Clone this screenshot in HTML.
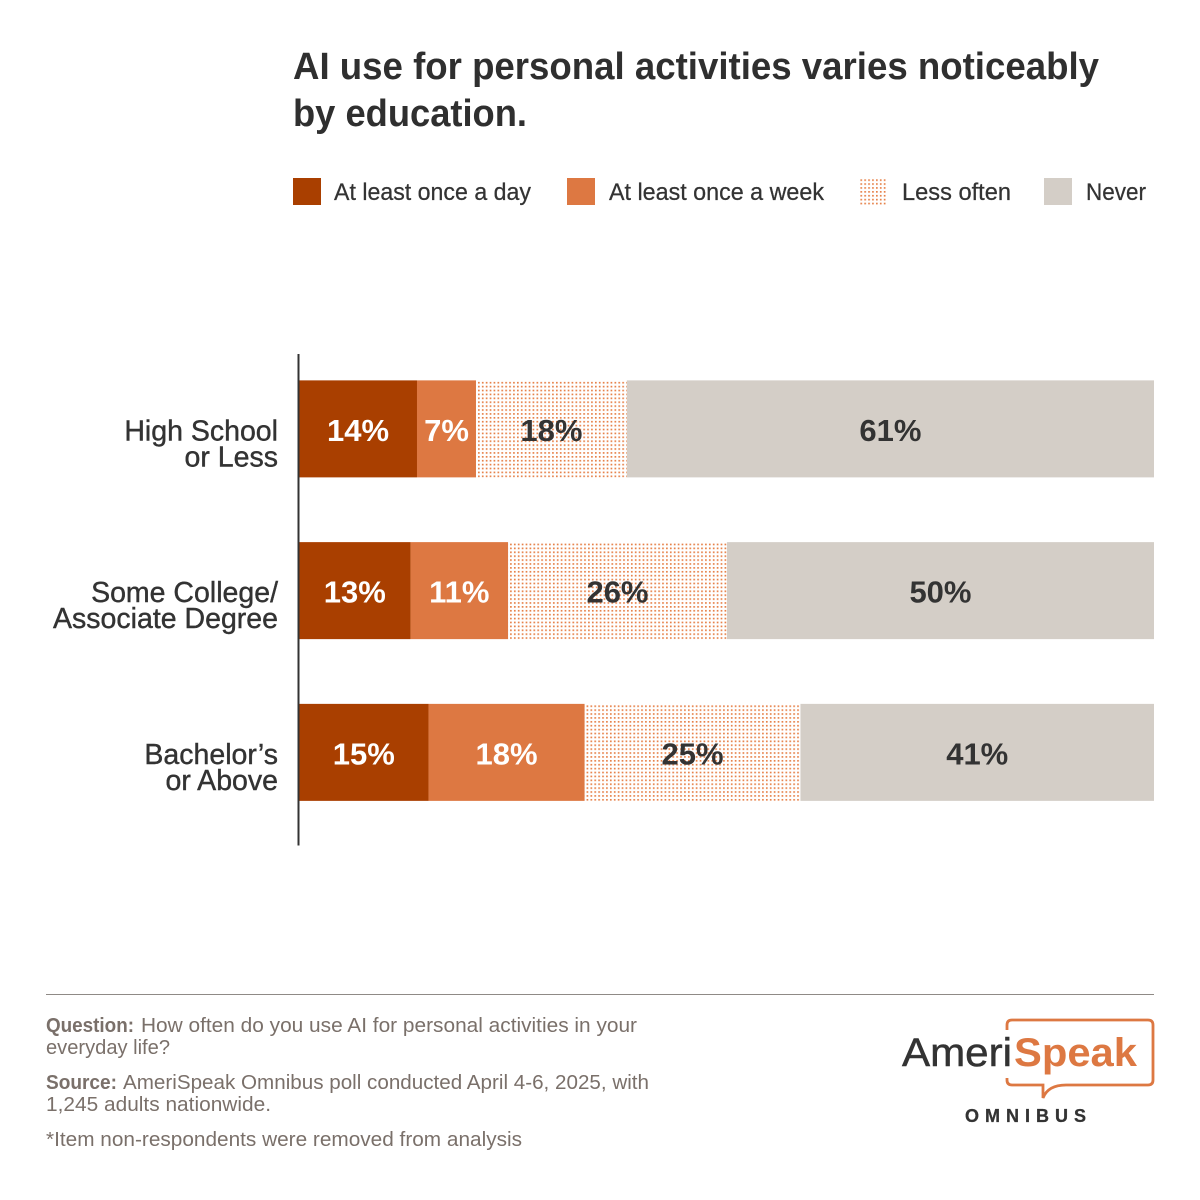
<!DOCTYPE html>
<html lang="en">
<head>
<meta charset="utf-8">
<title>AI use for personal activities varies noticeably by education.</title>
<style>
html,body{margin:0;padding:0;background:#fff;width:1200px;height:1200px;overflow:hidden}
svg{display:block}
text{font-family:"Liberation Sans",sans-serif}
</style>
</head>
<body>
<svg id="chart" xmlns="http://www.w3.org/2000/svg" width="1200" height="1200" viewBox="0 0 1200 1200">
  <defs id="defs">
    <pattern id="legend-dots" patternUnits="userSpaceOnUse" x="2.4" y="3.8" width="3.9" height="3.9">
      <rect x="0" y="0" width="1.7" height="1.7" fill="#e6824a"></rect>
    </pattern>
  </defs>
  <rect width="1200" height="1200" fill="#fff"></rect>

  <g fill="#2f2f2f" font-weight="700" font-size="38">
    <text x="293" y="79" textLength="806" lengthAdjust="spacingAndGlyphs">AI use for personal activities varies noticeably</text>
    <text x="293" y="126" textLength="234" lengthAdjust="spacingAndGlyphs">by education.</text>
  </g>

  <g font-size="24" fill="#333" stroke="#333" stroke-width="0.25">
    <g>
      <rect x="293" y="178" width="28" height="27" fill="#a93f00" stroke="none"></rect>
      <text x="334" y="200" textLength="197" lengthAdjust="spacingAndGlyphs">At least once a day</text>
    </g>
    <g>
      <rect x="567" y="178" width="28" height="27" fill="#dd7842" stroke="none"></rect>
      <text x="609" y="200" textLength="215" lengthAdjust="spacingAndGlyphs">At least once a week</text>
    </g>
    <g>
      <rect x="859" y="178" width="28" height="27" fill="url(#legend-dots)" stroke="none"></rect>
      <text x="902" y="200" textLength="109" lengthAdjust="spacingAndGlyphs">Less often</text>
    </g>
    <g>
      <rect x="1044" y="178" width="28" height="27" fill="#d4cec7" stroke="none"></rect>
      <text x="1086" y="200" textLength="60" lengthAdjust="spacingAndGlyphs">Never</text>
    </g>
  </g>

  <g id="plot"></g>
  <line x1="298.5" y1="354" x2="298.5" y2="845.5" stroke="#333" stroke-width="2"></line>

  <line x1="46" y1="994.5" x2="1154" y2="994.5" stroke="#8f8a86" stroke-width="1"></line>

  <g font-size="20" fill="#7a706a">
    <text x="46" y="1032" font-weight="700" textLength="88" lengthAdjust="spacingAndGlyphs">Question:</text>
    <text x="141" y="1032" textLength="496" lengthAdjust="spacingAndGlyphs">How often do you use AI for personal activities in your</text>
    <text x="46" y="1054" textLength="124" lengthAdjust="spacingAndGlyphs">everyday life?</text>
    <text x="46" y="1089" font-weight="700" textLength="71" lengthAdjust="spacingAndGlyphs">Source:</text>
    <text x="123" y="1089" textLength="526" lengthAdjust="spacingAndGlyphs">AmeriSpeak Omnibus poll conducted April 4-6, 2025, with</text>
    <text x="46" y="1111" textLength="225" lengthAdjust="spacingAndGlyphs">1,245 adults nationwide.</text>
    <text x="46" y="1146" textLength="476" lengthAdjust="spacingAndGlyphs">*Item non-respondents were removed from analysis</text>
  </g>

  <g>
    <path d="M1007 1030 V1025 Q1007 1020 1012 1020 H1148 Q1153 1020 1153 1025 V1080 Q1153 1085 1148 1085 H1066 Q1048 1085 1043 1098 V1085 H1012 Q1007 1085 1007 1080 V1077" fill="none" stroke="#dd7842" stroke-width="2.8"></path>
    <rect x="1000" y="1030" width="16" height="48" fill="#fff"></rect>
    <text x="902" y="1066" font-size="40" fill="#333" stroke="#333" stroke-width="0.5" textLength="110" lengthAdjust="spacingAndGlyphs">Ameri</text>
    <text x="1014" y="1066" font-size="40" font-weight="700" fill="#dd7842" textLength="123" lengthAdjust="spacingAndGlyphs">Speak</text>
    <text x="965" y="1122" font-size="18" font-weight="700" fill="#333" stroke="#333" stroke-width="0.3" textLength="121" lengthAdjust="spacing">OMNIBUS</text>
  </g>
</svg>
<script>
const categoryLine1 = ["High School", "Some College/", "Bachelor\u2019s"];
const categoryLine2 = ["or Less", "Associate Degree", "or Above"];
const dailyValues = [13.8, 13.05, 15.15];
const weeklyValues = [6.9, 11.4, 18.25];
const lessOftenValues = [17.65, 25.6, 25.25];
const neverValues = [61.65, 49.95, 41.35];
const dailyLabels = ["14%", "13%", "15%"];
const weeklyLabels = ["7%", "11%", "18%"];
const lessOftenLabels = ["18%", "26%", "25%"];
const neverLabels = ["61%", "50%", "41%"];

const NS = "http://www.w3.org/2000/svg";
const plot = document.getElementById("plot");
const defs = document.getElementById("defs");
const xLeft = 299, xWidth = 855;
const bandStart = 348, bandStep = 161.75, barHeight = 97;

function xScale(v) { return xLeft + (v / 100) * xWidth; }
function yCenter(i) { return bandStart + bandStep * (i + 0.5); }

const seriesList = [
  { key: "daily", values: dailyValues, labels: dailyLabels, fill: "#a93f00", text: "#fff" },
  { key: "weekly", values: weeklyValues, labels: weeklyLabels, fill: "#dd7842", text: "#fff" },
  { key: "less-often", values: lessOftenValues, labels: lessOftenLabels, fill: "dots", text: "#333" },
  { key: "never", values: neverValues, labels: neverLabels, fill: "#d4cec7", text: "#333" }
];

function makeText(content, x, y, size, weight, fill, anchor) {
  const t = document.createElementNS(NS, "text");
  t.textContent = content;
  t.setAttribute("x", x);
  t.setAttribute("y", y);
  t.setAttribute("font-size", size);
  t.setAttribute("font-weight", weight);
  t.setAttribute("fill", fill);
  t.setAttribute("text-anchor", anchor);
  return t;
}

function makeDotPattern(id, originX, originY) {
  const p = document.createElementNS(NS, "pattern");
  p.setAttribute("id", id);
  p.setAttribute("patternUnits", "userSpaceOnUse");
  p.setAttribute("x", originX);
  p.setAttribute("y", originY);
  p.setAttribute("width", 3.9);
  p.setAttribute("height", 3.9);
  const d = document.createElementNS(NS, "rect");
  d.setAttribute("width", 1.7);
  d.setAttribute("height", 1.7);
  d.setAttribute("fill", "#e6824a");
  p.appendChild(d);
  defs.appendChild(p);
}

categoryLine1.forEach(function (cat, i) {
  const cy = yCenter(i);

  const line1 = makeText(cat, 278, cy + 11.5, 28.5, 400, "#333", "end");
  line1.setAttribute("stroke", "#333");
  line1.setAttribute("stroke-width", "0.4");
  
  
  plot.appendChild(line1);

  const line2 = makeText(categoryLine2[i], 278, cy + 37.5, 28.5, 400, "#333", "end");
  line2.setAttribute("stroke", "#333");
  line2.setAttribute("stroke-width", "0.4");
  
  
  plot.appendChild(line2);

  let cumulative = 0;
  seriesList.forEach(function (s) {
    const v = s.values[i];
    const x0 = xScale(cumulative);
    const x1 = xScale(cumulative + v);
    cumulative += v;
    const top = cy - barHeight / 2;

    let fill = s.fill;
    if (fill === "dots") {
      const patternId = "bar-dots-" + i;
      makeDotPattern(patternId, x0 + 2, top + 1.5);
      fill = "url(#" + patternId + ")";
    }

    const bar = document.createElementNS(NS, "rect");
    bar.setAttribute("x", x0);
    bar.setAttribute("y", top);
    bar.setAttribute("width", x1 - x0);
    bar.setAttribute("height", barHeight);
    bar.setAttribute("fill", fill);
    
    
    plot.appendChild(bar);

    const label = makeText(s.labels[i], (x0 + x1) / 2, cy + 12, 31, 700, s.text, "middle");
    
    
    plot.appendChild(label);
  });
});
</script>
</body>
</html>
